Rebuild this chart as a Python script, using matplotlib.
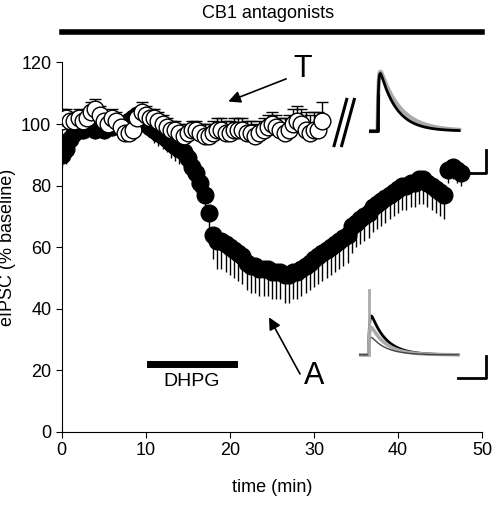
import numpy as np
import matplotlib
matplotlib.use("Agg")
import matplotlib.pyplot as plt
plt.rcParams['font.family'] = ['Liberation Sans', 'DejaVu Sans']

t_filled = np.arange(0, 48.0, 0.5)
filled = [90,92,95,97,98,98,99,99,98,99,98,99,99,100,100,100,101,102,103,102,
          100,99,98,97,96,95,94,93,92,91,89,86,84,81,77,71,64,62,62,61,
          60,59,58,57,55,54,54,53,53,53,52,52,52,51,51,52,52,53,54,55,
          56,57,58,59,60,61,62,63,64,67,68,69,70,71,73,74,75,76,77,78,
          79,80,80,81,81,82,82,81,80,79,78,77,85,86,85,84]
filled_err = [4,5,4,4,3,3,3,3,3,3,3,3,3,3,3,3,3,3,3,3,
              3,3,4,4,4,4,5,5,5,5,6,6,6,6,7,7,8,9,9,9,
              9,9,9,9,9,9,9,9,9,9,9,9,9,9,9,9,9,9,9,9,
              9,9,9,9,9,9,9,9,9,9,8,8,8,8,8,8,8,8,8,8,
              8,8,8,8,8,8,8,8,8,8,8,8,4,4,4,4]
t_open = np.arange(0, 31.5, 0.5)
opened = [101,102,101,101,102,101,102,104,105,103,101,100,102,101,99,97,97,98,102,104,
          103,102,102,101,100,99,98,98,97,96,97,98,98,97,96,96,97,98,98,97,
          97,98,98,98,97,97,96,97,98,99,100,99,98,97,98,100,101,100,98,97,
          98,98,101]
open_err = [4,3,3,3,3,3,3,3,3,3,3,3,3,3,3,3,3,3,3,3,
            3,3,3,3,3,3,3,3,3,3,3,3,3,3,4,4,4,4,4,4,
            4,4,4,4,4,4,4,4,4,4,4,4,4,5,5,5,5,5,6,6,
            6,6,6]

fig = plt.figure(figsize=(4.98, 5.08), dpi=100)
ax = fig.add_axes([0.124, 0.15, 0.844, 0.727])
ax.errorbar(t_filled, filled, yerr=[filled_err, [0]*len(filled)], fmt='o', color='black',
            mfc='black', mec='black', ms=12, elinewidth=1, capsize=0, zorder=2)
ax.errorbar(t_open, opened, yerr=[[0]*len(opened), open_err], fmt='o', color='black',
            mfc='white', mec='black', ms=12, mew=1, elinewidth=1, capsize=4, zorder=3)
ax.set_xlim(0, 50)
ax.set_ylim(0, 120)
ax.set_xticks([0, 10, 20, 30, 40, 50])
ax.set_yticks([0, 20, 40, 60, 80, 100, 120])
ax.tick_params(labelsize=13, direction='out', length=4)
ax.spines['top'].set_visible(False)
ax.spines['right'].set_visible(False)
ax.set_xlabel('time (min)', fontsize=13, labelpad=14)
ax.set_ylabel('eIPSC (% baseline)', fontsize=13, labelpad=4)

# annotations
ax.plot([10.5, 20.5], [22, 22], color='black', lw=5, clip_on=False)
ax.text(15.5, 19, 'DHPG', ha='center', va='top', fontsize=14)
ax.annotate('', xy=(19.5, 107), xytext=(27, 115),
            arrowprops=dict(arrowstyle='-|>', color='black', lw=1.2, mutation_scale=18))
ax.text(27.5, 118, 'T', fontsize=22, va='center')
ax.annotate('', xy=(24.5, 38), xytext=(28.5, 18),
            arrowprops=dict(arrowstyle='-|>', color='black', lw=1.2, mutation_scale=18))
ax.text(28.8, 18, 'A', fontsize=22, va='center')
for dx in (0, 0.9):
    ax.plot([32.4 + dx, 33.9 + dx], [93, 108], color='black', lw=2.2, clip_on=False)
ax.plot([0, 50], [130, 130], color='black', lw=4, clip_on=False)
ax.text(24.5, 133, 'CB1 antagonists', ha='center', va='bottom', fontsize=13)

# insets with traces
tt = np.linspace(0, 1, 300)
def trace(amp, tau, rise=0.01, onset=0.1):
    x = np.clip(tt - onset, 0, None)
    return amp * (1 - np.exp(-x / rise)) * np.exp(-x / tau)

ins1 = fig.add_axes([0.74, 0.735, 0.2, 0.155])
ins1.plot(tt, trace(1.0, 0.22), color='#aaaaaa', lw=3)
ins1.plot(tt, trace(1.0, 0.18), color='black', lw=2)
ins1.plot([0.0, 0.1, 0.1], [0, 0, 0.5], color='black', lw=2)
ins1.set_ylim(-0.05, 1.05); ins1.set_xlim(0, 1.1); ins1.axis('off')
ins2 = fig.add_axes([0.72, 0.29, 0.22, 0.15])
ins2.plot(tt, trace(0.85, 0.15), color='black', lw=2)
ins2.plot(tt, trace(0.6, 0.15), color='#aaaaaa', lw=2.5)
ins2.plot(tt, trace(0.38, 0.15), color='#444444', lw=1)
ins2.plot([0.1, 0.1], [0, 1.1], color='#aaaaaa', lw=2)
ins2.set_ylim(-0.1, 1.2); ins2.set_xlim(0, 1.1); ins2.axis('off')
# scale bars
for y0 in (0.66, 0.255):
    fig.add_artist(plt.Line2D([0.92, 0.975, 0.975], [y0, y0, y0 + 0.045], color='black', lw=2))

fig.savefig('out.png', dpi=100)
